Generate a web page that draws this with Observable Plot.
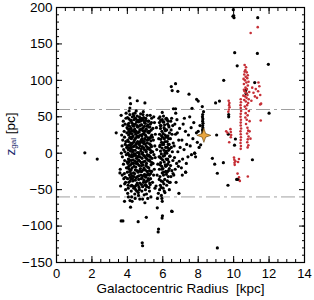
<!DOCTYPE html>
<html>
<head>
<meta charset="utf-8">
<script src="https://cdn.jsdelivr.net/npm/d3@7"></script>
<script src="https://cdn.jsdelivr.net/npm/@observablehq/plot@0.6"></script>
<style>
  html, body { margin: 0; padding: 0; background: #fff; }
  #chart { width: 314px; height: 300px; }
</style>
</head>
<body>
<div id="chart"></div>
<script>
// ---- data ----
const xTicks = [0, 2, 4, 6, 8, 10, 12, 14];
const yTicks = [-150, -100, -50, 0, 50, 100, 150, 200];
const zLimits = [-60, 60];
const sunPosition = [[8.32, 24.5]];
const xLabel = "Galactocentric Radius  [kpc]";

const blackPoints = [
  [3.62,-45],[3.65,52],[3.6,-22],[3.58,-27],[3.7,10],[3.72,-5],[3.68,25],[3.75,38],[3.78,-15],[3.66,0],[3.74,18],[3.8,-35],[3.77,44],[3.71,-30],[3.79,5],
  [3.82,30],[3.85,-10],[3.88,12],[3.9,-40],[3.84,22],[3.92,48],[3.95,-20],[3.86,2],[3.98,35],[3.9,-50],[3.83,-28],[3.96,8],[3.94,-2],[3.87,40],[3.99,-12],[3.91,16],[3.97,28],[3.85,-42],[3.93,55],[3.89,-33],
  [4.02,-55],[4.05,-48],[4.08,-40],[4.01,-35],[4.12,-30],[4.15,-25],[4.04,-20],[4.18,-16],[4.1,-12],[4.06,-8],[4.14,-4],[4.03,0],[4.17,3],[4.09,7],[4.11,11],[4.19,14],[4.02,18],[4.13,21],[4.07,25],[4.16,29],[4.04,33],[4.12,37],[4.08,41],[4.18,45],[4.01,49],[4.14,53],[4.1,58],[4.06,-60],[4.15,-65],[4.19,-45],[4.11,-22],[4.05,5],[4.17,-33],[4.09,30],[4.14,62],
  [4.22,-52],[4.25,-44],[4.31,-38],[4.28,-31],[4.35,-27],[4.21,-23],[4.38,-18],[4.26,-14],[4.33,-9],[4.24,-5],[4.37,-1],[4.29,2],[4.22,6],[4.34,9],[4.27,13],[4.39,17],[4.23,20],[4.32,24],[4.26,27],[4.36,31],[4.21,34],[4.3,38],[4.25,42],[4.38,46],[4.28,50],[4.33,54],[4.24,-60],[4.36,-48],[4.29,-35],[4.23,-10],[4.35,15],[4.31,40],[4.27,-66],
  [4.42,-56],[4.47,-50],[4.52,-43],[4.45,-37],[4.57,-32],[4.41,-28],[4.54,-24],[4.48,-19],[4.59,-15],[4.43,-11],[4.51,-7],[4.46,-3],[4.56,1],[4.44,4],[4.53,8],[4.49,12],[4.58,16],[4.42,19],[4.55,23],[4.47,26],[4.5,30],[4.41,33],[4.57,36],[4.45,40],[4.52,43],[4.48,47],[4.55,51],[4.43,55],[4.5,58],[4.46,-45],[4.54,-12],[4.58,28],[4.44,-62],
  [4.62,-54],[4.66,-47],[4.71,-41],[4.64,-36],[4.77,-30],[4.61,-26],[4.74,-21],[4.68,-17],[4.79,-13],[4.63,-9],[4.72,-5],[4.67,-1],[4.76,3],[4.65,7],[4.73,10],[4.69,14],[4.78,18],[4.62,22],[4.75,25],[4.67,29],[4.7,32],[4.61,36],[4.77,39],[4.64,43],[4.72,47],[4.68,50],[4.75,54],[4.63,-58],[4.7,-63],[4.78,-35],[4.66,12],[4.74,44],[4.69,-24],
  [4.82,-52],[4.86,-46],[4.91,-40],[4.84,-34],[4.97,-29],[4.81,-25],[4.94,-20],[4.88,-16],[4.99,-11],[4.83,-7],[4.92,-3],[4.87,1],[4.96,5],[4.85,9],[4.93,13],[4.89,17],[4.98,20],[4.82,24],[4.95,28],[4.87,31],[4.9,35],[4.81,39],[4.97,42],[4.84,46],[4.92,49],[4.88,53],[4.95,-57],[4.86,-63],[4.99,-68],[4.83,20],[4.94,-37],[4.9,57],
  [5.02,-50],[5.06,-44],[5.11,-38],[5.04,-33],[5.17,-28],[5.01,-23],[5.14,-19],[5.08,-14],[5.19,-10],[5.03,-6],[5.12,-2],[5.07,2],[5.16,6],[5.05,10],[5.13,14],[5.09,18],[5.18,21],[5.02,25],[5.15,29],[5.07,33],[5.1,37],[5.01,41],[5.17,44],[5.04,48],[5.12,52],[5.08,-56],[5.15,-62],[5.03,-40],[5.19,30],[5.11,-25],
  [5.22,-47],[5.26,-41],[5.31,-35],[5.24,-30],[5.37,-25],[5.21,-20],[5.34,-16],[5.28,-11],[5.39,-7],[5.23,-3],[5.32,1],[5.27,5],[5.36,9],[5.25,13],[5.33,17],[5.29,21],[5.38,25],[5.22,28],[5.35,32],[5.27,36],[5.3,40],[5.21,44],[5.37,48],[5.25,-52],[5.33,-60],[5.29,52],
  [5.42,-40],[5.48,-30],[5.52,-22],[5.45,-14],[5.57,-6],[5.43,2],[5.55,10],[5.47,18],[5.58,26],[5.44,34],[5.53,42],[5.49,50],[5.56,-48],[5.5,-2],[5.41,22],
  [5.62,-45],[5.68,-30],[5.72,-15],[5.66,5],[5.77,20],[5.64,35],[5.75,-55],[5.7,-62],[5.78,48],[5.69,-75],[5.76,-104],[5.74,-108],[5.79,-5],
  [5.82,-50],[5.86,-44],[5.91,-38],[5.84,-32],[5.97,-27],[5.81,-22],[5.94,-18],[5.88,-13],[5.99,-9],[5.83,-5],[5.92,-1],[5.87,3],[5.96,7],[5.85,11],[5.93,15],[5.89,19],[5.98,22],[5.82,26],[5.95,30],[5.87,34],[5.9,38],[5.81,42],[5.97,46],[5.84,50],[5.97,56],[5.95,-62],[5.97,-66],[5.98,-86],[5.96,-89],[5.92,-58],
  [6.02,-48],[6.06,-42],[6.11,-36],[6.04,-30],[6.17,-25],[6.01,-21],[6.14,-16],[6.08,-12],[6.19,-8],[6.03,-4],[6.12,0],[6.07,4],[6.16,8],[6.05,12],[6.13,16],[6.09,20],[6.18,23],[6.02,27],[6.15,31],[6.07,35],[6.1,39],[6.01,43],[6.17,47],[6.04,51],[6.12,-54],
  [6.22,-44],[6.26,-38],[6.31,-32],[6.24,-26],[6.37,-21],[6.21,-17],[6.34,-12],[6.28,-8],[6.39,-4],[6.23,0],[6.32,4],[6.27,8],[6.36,12],[6.25,16],[6.33,20],[6.29,24],[6.38,28],[6.22,32],[6.35,36],[6.27,40],[6.3,44],[6.21,48],[6.37,-50],
  [6.42,-40],[6.46,-32],[6.51,-24],[6.44,-17],[6.57,-10],[6.41,-4],[6.54,2],[6.48,8],[6.59,14],[6.43,20],[6.52,26],[6.47,32],[6.56,38],[6.45,44],[6.53,-80],[6.5,48],[6.58,-28],
  [6.62,-30],[6.7,-22],[6.78,-14],[6.66,-6],[6.85,2],[6.64,10],[6.9,18],[6.72,26],[6.95,34],[6.68,40],[6.8,46],[6.75,-40],[6.88,-18],[6.98,8],[6.82,28],[6.91,-55],[6.93,-11],[6.73,55],[6.6,61],
  [7.05,-20],[7.12,-8],[7.2,5],[7.08,18],[7.28,30],[7.15,40],[7.35,12],[7.42,-5],[7.29,-26],[7.33,-14],[7.22,48],[7.45,25],[7.1,-30],
  [7.55,10],[7.62,-2],[7.6,35],[7.7,20],[7.8,0],[7.85,-5],[7.75,42],[7.9,28],[7.95,15],[8.05,8],[8.1,38],[8.14,11.5],[7.65,61.6],[8.0,30],[7.52,50],
  [8.25,26],[8.26,29],[8.24,32],[8.26,35],[8.25,38],[8.27,41],[8.25,44],[8.26,47],[8.24,50],[8.25,53],
  [1.6,0.5],[2.3,-8],[3.37,28],[4.14,76],[4.56,72],[4.99,69],[4.18,68],[3.84,-66],[4.18,-74],[3.65,-93],[3.75,-93],[4.61,-94],[5.07,-88],[4.84,-123],[4.86,-127],
  [6.48,91.5],[6.72,95.5],[6.53,86],[6.85,85],[7.48,81],[7.91,74],[8.0,71.5],[8.98,69],[9.2,71.5],[8.23,64],[8.3,57],[12.0,55],[6.72,61],
  [9.04,25],[9.7,26],[9.72,53],[9.72,50],[10.1,19.5],[10.05,11],
  [9.98,197],[10.0,189],[10.02,186],[9.96,188],[11.36,186],[10.06,138],[11.34,137],[10.2,120],[11.96,122],[9.44,100],[11.19,97],[10.68,86],[10.7,82],
  [8.8,-7],[8.93,-15],[9.42,-13],[11.06,-9],[9.08,-27.5],[9.68,-44],[10.17,-36],[10.25,-36],[7.29,-26],[7.8,0],[6.5,-79.5],[9.08,-130],
  [4.0,-26],[4.03,-14],[4.07,-2],[4.0,10],[4.06,16],[4.13,27],[4.02,39],[4.09,47],[4.16,-38],[4.12,-9],[4.19,8],[4.15,33],[4.04,-44],[4.17,22],[4.08,-18],
  [4.2,-35],[4.27,-20],[4.24,-2],[4.32,4],[4.2,11],[4.28,22],[4.37,37],[4.22,45],[4.3,-45],[4.35,-14],[4.26,31],[4.38,-32],[4.33,-4],[4.21,-28],[4.36,51],
  [4.4,-47],[4.45,-23],[4.5,-14],[4.43,-1],[4.52,14],[4.47,21],[4.41,29],[4.55,38],[4.49,-34],[4.58,-5],[4.44,48],[4.53,-52],[4.59,45],[4.4,10],[4.56,-41],
  [4.6,-44],[4.65,-31],[4.7,-11],[4.63,-4],[4.73,16],[4.66,24],[4.61,45],[4.76,33],[4.68,-50],[4.79,6],[4.64,1],[4.77,-25],[4.6,15],[4.71,38],[4.79,48],
  [4.8,-43],[4.86,-31],[4.9,-12],[4.83,-1],[4.93,7],[4.86,26],[4.81,33],[4.96,37],[4.89,-23],[4.98,-44],[4.84,15],[4.97,-4],[4.8,-17],[4.91,45],[4.95,16],
  [5.0,-31],[5.05,-17],[5.1,-8],[5.03,4],[5.13,8],[5.06,23],[5.01,31],[5.16,39],[5.09,-46],[5.18,-35],[5.04,45],[5.17,-4],[5.0,13],[5.11,-30],[5.15,18],
  [5.2,-37],[5.25,-24],[5.3,-5],[5.23,7],[5.33,11],[5.26,30],[5.21,36],[5.36,42],[5.29,-43],[5.38,-13],[5.24,-9],[5.34,23],[5.2,19],[5.31,-28],[5.35,3],
  [5.8,-36],[5.85,-16],[5.9,-7],[5.83,9],[5.93,24],[5.86,38],[5.96,-22],[5.88,45],[5.99,12],[5.91,-47],
  [6.0,-39],[6.05,-26],[6.1,-3],[6.03,14],[6.13,25],[6.06,43],[6.16,-18],[6.08,-52],[6.19,3],[6.11,33],
  [6.2,-29],[6.26,-9],[6.3,12],[6.23,22],[6.33,38],[6.36,-40],[6.28,-15],[6.38,6],[6.25,46],[6.32,-24]
];

const redPoints = [
  [10.62,121],[10.7,118],[10.66,114],[10.74,111],[10.6,108],[10.68,105],[10.77,103],[10.64,100],[10.72,97],[10.58,95],[10.8,93],[10.67,90],[10.75,88],[10.62,85],[10.7,83],[10.78,80],[10.65,78],[10.73,76],[10.6,73],[10.69,71],[10.82,69],[10.76,66],[10.63,64],[10.71,61],[10.86,58],[10.68,55],[10.79,52],[10.66,49],[10.74,46],[10.9,44],[10.7,40],[10.62,112],[10.8,107],[10.56,102],[10.84,98],[10.58,87],[10.88,84],[10.55,79],[10.85,74],
  [11.4,97],[11.45,92],[11.38,85],[11.5,80],[11.32,76],[11.55,68],[11.25,88],[11.05,90],[11.12,83],[11.2,78],[11.0,72],[10.96,165],[11.36,173],[11.5,67],[11.53,45],
  [10.4,74],[10.41,70],[10.39,66],[10.4,62],[10.42,58],[10.4,54],[10.39,50],[10.41,46],[10.4,42],[10.4,38],[10.42,34],[10.39,30],[10.4,26],[10.41,22],[10.4,18],[10.39,14],[10.41,10],[10.4,6],
  [10.78,35],[10.82,31],[10.76,27],[10.84,23],[10.8,19],[10.77,15],[10.83,11],[10.79,8],[10.9,30],[10.95,20],
  [9.72,72],[9.76,69],[9.74,66],[9.77,63],[9.73,60],[9.7,57],
  [9.58,30],[9.65,28],[9.82,33],[9.84,29],[9.86,25],[9.84,22],[9.75,15],
  [10.02,-6],[10.04,-9],[10.05,-13],[10.1,-11],[10.25,-12],[10.3,-8],[10.22,-28],[10.3,-33],[10.35,-38],[10.8,-32],[10.06,-16]
];

// ---- drawing ----
const star4 = {
  draw(context, size) {
    const R = Math.sqrt(size / Math.PI);
    const r = R * 0.36;
    for (let i = 0; i < 8; i++) {
      const a = -Math.PI / 2 + i * Math.PI / 4;
      const rad = i % 2 === 0 ? R : r;
      const px = rad * Math.cos(a), py = rad * Math.sin(a);
      if (i === 0) context.moveTo(px, py); else context.lineTo(px, py);
    }
    context.closePath();
  }
};

const xMinor = d3.range(0, 14.001, 0.5);
const yMinor = d3.range(-150, 200.001, 10);
const minus = d => d < 0 ? "\u2212" + Math.abs(d) : String(d);

const plot = Plot.plot({
  width: 314,
  height: 300,
  marginLeft: 56,
  marginRight: 10,
  marginTop: 7,
  marginBottom: 38,
  style: { fontFamily: "'Liberation Sans', Arial, sans-serif", fontSize: "13px", color: "black", background: "white" },
  x: { domain: [0, 14] },
  y: { domain: [-150, 200] },
  marks: [
    Plot.ruleY(zLimits, { stroke: "#a0a0a0", strokeWidth: 1, strokeDasharray: "14,4,3,4" }),
    Plot.dot(blackPoints, { x: d => d[0], y: d => d[1], r: 1.6, fill: "black" }),
    Plot.dot(redPoints, { x: d => d[0], y: d => d[1], r: 1.3, fill: "#c62f36" }),
    Plot.dot(sunPosition, { x: d => d[0], y: d => d[1], symbol: star4, r: 7, fill: "#e9a63f", stroke: "#5a3a08", strokeWidth: 0.6 }),
    Plot.frame({ stroke: "black", strokeWidth: 1.2 }),
    Plot.axisX(xTicks, { anchor: "bottom", tickSize: -6, fill: "none", label: null }),
    Plot.axisX(xMinor, { anchor: "bottom", tickSize: -3, fill: "none", label: null }),
    Plot.axisX(xTicks, { anchor: "top", tickSize: -6, fill: "none", label: null }),
    Plot.axisX(xMinor, { anchor: "top", tickSize: -3, fill: "none", label: null }),
    Plot.axisX(xTicks, { anchor: "bottom", tickSize: 0, tickPadding: 6, label: null, fontSize: 13 }),
    Plot.axisY(yTicks, { anchor: "left", tickSize: -6, fill: "none", label: null }),
    Plot.axisY(yMinor, { anchor: "left", tickSize: -3, fill: "none", label: null }),
    Plot.axisY(yTicks, { anchor: "right", tickSize: -6, fill: "none", label: null }),
    Plot.axisY(yMinor, { anchor: "right", tickSize: -3, fill: "none", label: null }),
    Plot.axisY(yTicks, { anchor: "left", tickSize: 0, tickPadding: 4, tickFormat: minus, label: null, fontSize: 13.5 }),
    Plot.text([xLabel], { frameAnchor: "bottom", dy: 30, fontSize: 13.5, fill: "black" })
  ]
});

// y-axis title with subscript
const svg = d3.select(plot);
const t = svg.append("text")
  .attr("transform", "translate(11,134) rotate(-90)")
  .attr("text-anchor", "middle")
  .attr("dominant-baseline", "middle")
  .attr("font-size", 13.5)
  .attr("fill", "black");
t.append("tspan").attr("fill", "#1c2a6e").text("z");
t.append("tspan").attr("font-size", 8).attr("dy", 3).attr("fill", "#1c2a6e").text("gal");
t.append("tspan").attr("dy", -3).text(" [pc]");

document.getElementById("chart").appendChild(plot);
</script>
</body>
</html>
